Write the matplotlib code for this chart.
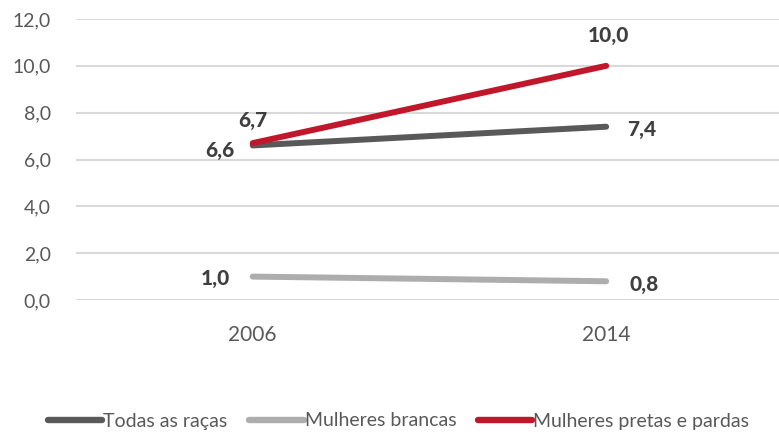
import matplotlib.pyplot as plt

# Data
years = ["2006", "2014"]
todas = [6.6, 7.4]
brancas = [1.0, 0.8]
pretas = [6.7, 10.0]
series_names = ["Todas as raças", "Mulheres brancas", "Mulheres pretas e pardas"]
y_ticks = [0, 2, 4, 6, 8, 10, 12]

plt.rcParams['font.family'] = ['Lato', 'DejaVu Sans']


def fmt(v):
    return f"{v:.1f}".replace('.', ',')


fig = plt.figure(figsize=(7.79, 4.32), dpi=100)
ax = fig.add_axes([76 / 779, 132 / 432, 1 - 76 / 779 + 0.005, 281 / 432])

x = list(range(len(years)))
c_dark = '#595959'
c_light = '#ADADAD'
c_red = '#C0172B'

ax.plot(x, todas, color=c_dark, lw=4.3, solid_capstyle='round',
        label=series_names[0], zorder=3)
ax.plot(x, brancas, color=c_light, lw=4.3, solid_capstyle='round',
        label=series_names[1], zorder=3)
ax.plot(x, pretas, color=c_red, lw=4.3, solid_capstyle='round',
        label=series_names[2], zorder=4)

lab = dict(fontsize=15, fontweight='black', color='#3f3f3f',
           ha='center', va='center')
ax.annotate(fmt(todas[0]), (x[0], todas[0]),
            xytext=(-33, -5), textcoords='offset pixels', **lab)
ax.annotate(fmt(todas[1]), (x[1], todas[1]),
            xytext=(36, -3), textcoords='offset pixels', **lab)
ax.annotate(fmt(brancas[0]), (x[0], brancas[0]),
            xytext=(-37, -2), textcoords='offset pixels', **lab)
ax.annotate(fmt(brancas[1]), (x[1], brancas[1]),
            xytext=(38, -3), textcoords='offset pixels', **lab)
ax.annotate(fmt(pretas[0]), (x[0], pretas[0]),
            xytext=(0, 23), textcoords='offset pixels', **lab)
ax.annotate(fmt(pretas[1]), (x[1], pretas[1]),
            xytext=(2, 30), textcoords='offset pixels', **lab)

ax.set_xlim(-0.5, 1.5)
ax.set_ylim(0, 12)
ax.set_xticks(x)
ax.set_xticklabels(years, fontsize=15, color='#595959')
ax.set_yticks(y_ticks)
ax.set_yticklabels([fmt(v) for v in y_ticks], fontsize=14, color='#595959')
ax.tick_params(length=0)
ax.tick_params(axis='x', pad=18)
ax.tick_params(axis='y', pad=18)
ax.grid(axis='y', color='#d9d9d9', lw=1.5)
ax.set_axisbelow(True)
for s in ax.spines.values():
    s.set_visible(False)

leg = fig.legend(loc='center', bbox_to_anchor=(0.5 + 9 / 779, 11 / 432),
                 ncol=3, frameon=False, fontsize=14, handlelength=2.8,
                 handletextpad=0.05, columnspacing=1.1)
for t in leg.get_texts():
    t.set_color('#595959')
for h in leg.get_lines():
    h.set_linewidth(4.6)
    h.set_solid_capstyle('round')

fig.savefig('out.png', dpi=100)
